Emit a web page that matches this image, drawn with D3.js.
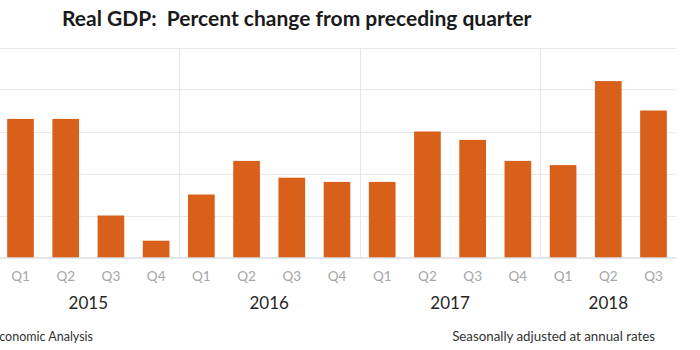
<!DOCTYPE html>
<html>
<head>
<meta charset="utf-8">
<script src="https://cdn.jsdelivr.net/npm/d3@7"></script>
<style>
  html, body { margin: 0; padding: 0; background: #fff; }
  svg { display: block; font-family: Lato, "Open Sans", sans-serif; }
</style>
</head>
<body>
<div id="chart"></div>
<script>
// data
const years = ["2015", "2016", "2017", "2018"];
const quarters = ["Q1", "Q2", "Q3", "Q4", "Q1", "Q2", "Q3", "Q4", "Q1", "Q2", "Q3", "Q4", "Q1", "Q2", "Q3"];
const barYears = ["2015", "2015", "2015", "2015", "2016", "2016", "2016", "2016", "2017", "2017", "2017", "2017", "2018", "2018", "2018"];
const values = [3.3, 3.3, 1.0, 0.4, 1.5, 2.3, 1.9, 1.8, 1.8, 3.0, 2.8, 2.3, 2.2, 4.2, 3.5];
const yTicks = [1, 2, 3, 4, 5];

const W = 700, H = 350;
const data = values.map((v, i) => ({ key: barYears[i] + "-" + quarters[i], year: barYears[i], q: quarters[i], value: v }));

const svg = d3.select("#chart").append("svg")
  .attr("width", W)
  .attr("height", H);

// the plot starts a little left of the picture, like the cropped original
const x = d3.scaleBand()
  .domain(data.map(d => d.key))
  .range([-2.1, 676.1])
  .paddingInner(0.41)
  .paddingOuter(0.205);

const y = d3.scaleLinear()
  .domain([0, 5])
  .range([257.5, 47.5]);

// horizontal gridlines
svg.append("g")
  .selectAll("line")
  .data(yTicks)
  .join("line")
  .attr("x1", x.range()[0])
  .attr("x2", x.range()[1])
  .attr("y1", d => Math.round(y(d)) + 0.5)
  .attr("y2", d => Math.round(y(d)) + 0.5)
  .attr("stroke", "#e9e9e9");

// group start/end in pixels
const half = x.step() * x.paddingInner() / 2;
const groups = years.map(yr => {
  const keys = data.filter(d => d.year === yr).map(d => d.key);
  const x0 = x(keys[0]) - half;
  const x1 = x(keys[keys.length - 1]) + x.bandwidth() + half;
  return { year: yr, x0, x1 };
});

// vertical separators between years
svg.append("g").selectAll("line")
  .data(groups)
  .join("line")
  .attr("x1", d => Math.round(d.x0) + 0.5)
  .attr("x2", d => Math.round(d.x0) + 0.5)
  .attr("y1", y(5))
  .attr("y2", y(0))
  .attr("stroke", "#e6e6e6");

// bars
svg.append("g").selectAll("rect")
  .data(data)
  .join("rect")
  .attr("x", d => x(d.key))
  .attr("width", x.bandwidth())
  .attr("y", d => y(d.value))
  .attr("height", d => y(0) - y(d.value))
  .attr("fill", "#d8601b");

// baseline + quarter labels
const xAxis = svg.append("g")
  .attr("transform", `translate(0,${y(0)})`)
  .call(d3.axisBottom(x).tickSize(0).tickPadding(14).tickFormat((k, i) => quarters[i]));
xAxis.select(".domain").attr("stroke", "#c8ccd2");
xAxis.selectAll("text")
  .attr("fill", "#a6a6a6")
  .style("font-size", "13.5px")
  .style("font-family", "Lato, sans-serif");

// year labels
svg.append("g").selectAll("text")
  .data(groups)
  .join("text")
  .attr("x", d => (d.x0 + d.x1) / 2)
  .attr("y", 309)
  .attr("text-anchor", "middle")
  .attr("fill", "#262626")
  .style("font-size", "17px")
  .text(d => d.year);

// title
svg.append("text")
  .attr("x", 62)
  .attr("y", 26)
  .attr("fill", "#1a1a1a")
  .style("font-size", "21px")
  .style("font-weight", "bold")
  .text("Real GDP:\u00a0 Percent change from preceding quarter");

// footnotes (left one is cut by the frame, as in the original)
svg.append("text")
  .attr("x", 93)
  .attr("y", 341)
  .attr("text-anchor", "end")
  .attr("fill", "#333")
  .style("font-size", "12.5px")
  .text("U.S. Bureau of Economic Analysis");

svg.append("text")
  .attr("x", 655)
  .attr("y", 341)
  .attr("text-anchor", "end")
  .attr("fill", "#333")
  .style("font-size", "13.3px")
  .text("Seasonally adjusted at annual rates");
</script>
</body>
</html>
